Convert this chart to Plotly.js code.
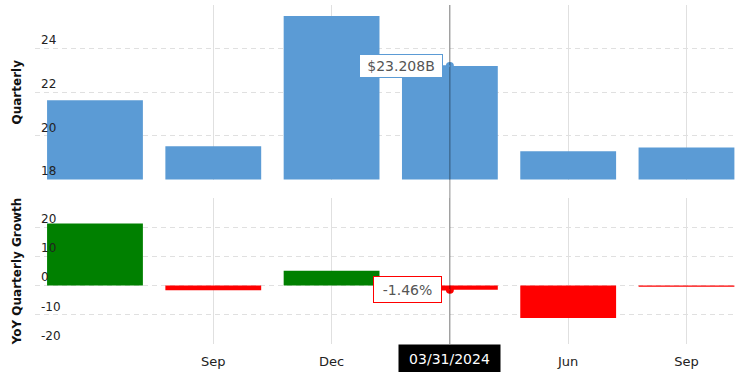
<!DOCTYPE html>
<html>
<head>
<meta charset="utf-8">
<script src="https://cdn.plot.ly/plotly-3.0.1.min.js"></script>
<style>html,body{margin:0;padding:0;background:#fff;}#chart{width:737px;height:372px;}</style>
</head>
<body>
<div id="chart"></div>
<script>
// Data
var quarters = ["2023-06-30", "2023-09-30", "2023-12-31", "2024-03-31", "2024-06-30", "2024-09-30"];
var quarterlyRevenue = [21.63, 19.52, 25.49, 23.208, 19.30, 19.47]; // $B
var yoyGrowth = [21.3, -1.6, 5.1, -1.46, -11.1, -0.4]; // %
var tickQuarters = ["2023-09-30", "2023-12-31", "2024-03-31", "2024-06-30", "2024-09-30"];
var tickLabels = ["Sep", "Dec", "", "Jun", "Sep"]; // Mar is covered by the date label
var topTicks = [18, 20, 22, 24, 26];
var topTickText = ["18", "20", "22", "24", ""];
var bottomTicks = [-20, -10, 0, 10, 20, 30];
var bottomTickText = ["-20", "-10", "0", "10", "20", ""];
var hoverIndex = 3;
var hoverDateLabel = "03/31/2024";

var H = 372;
var FONT = "DejaVu Sans, Verdana, sans-serif";
var BLUE = "#5b9bd5";
var GREEN = "#008000";
var RED = "#ff0000";
var GRID = "#e0e0e0";

var growthColors = yoyGrowth.map(function (v) { return v >= 0 ? GREEN : RED; });

var traces = [
  {type: "bar", x: quarters, y: quarterlyRevenue, xaxis: "x", yaxis: "y",
   marker: {color: BLUE}, hoverinfo: "skip", showlegend: false},
  {type: "bar", x: quarters, y: yoyGrowth, xaxis: "x2", yaxis: "y2",
   marker: {color: growthColors}, hoverinfo: "skip", showlegend: false},
  {type: "scatter", mode: "markers", x: [quarters[hoverIndex]], y: [quarterlyRevenue[hoverIndex]],
   xaxis: "x", yaxis: "y", marker: {color: BLUE, size: 8}, showlegend: false, hoverinfo: "skip", cliponaxis: false},
  {type: "scatter", mode: "markers", x: [quarters[hoverIndex]], y: [yoyGrowth[hoverIndex]],
   xaxis: "x2", yaxis: "y2", marker: {color: RED, size: 8}, showlegend: false, hoverinfo: "skip", cliponaxis: false}
];

var xRange = [-0.507, 5.427];
var commonX = {
  type: "category", range: xRange, showgrid: true, gridcolor: GRID, gridwidth: 1,
  tickmode: "array", tickvals: tickQuarters, ticktext: tickLabels,
  ticks: "", showline: false, zeroline: false, fixedrange: true
};

var layout = {
  width: 737, height: H,
  margin: {l: 35, r: 0, t: 0, b: 0},
  paper_bgcolor: "#fff", plot_bgcolor: "#fff",
  bargap: 0.19,
  font: {family: FONT, size: 12, color: "#222"},
  xaxis: Object.assign({}, commonX, {anchor: "y", domain: [0, 1], showticklabels: false}),
  xaxis2: Object.assign({}, commonX, {anchor: "y2", domain: [0, 1], showticklabels: true,
    ticklabelstandoff: 8, tickfont: {family: FONT, size: 13, color: "#222"}}),
  yaxis: {
    domain: [1 - 179.5 / H, 1 - 5 / H], range: [18, 26], anchor: "x",
    tickmode: "array", tickvals: topTicks, ticktext: topTickText,
    ticklabelposition: "inside top", ticklabelstandoff: 3,
    showgrid: true, gridcolor: GRID, griddash: "5px,4px", zeroline: false, showline: false, ticks: "",
    tickfont: {family: FONT, size: 12, color: "#222"},
    title: {text: "Quarterly", font: {family: FONT, size: 12, color: "#111", weight: "bold"}, standoff: 16},
    fixedrange: true
  },
  yaxis2: {
    domain: [1 - 344 / H, 1 - 198 / H], range: [-20, 30], anchor: "x2",
    tickmode: "array", tickvals: bottomTicks, ticktext: bottomTickText,
    ticklabelposition: "inside top", ticklabelstandoff: 3,
    showgrid: true, gridcolor: GRID, griddash: "5px,4px", zeroline: false, showline: false, ticks: "",
    tickfont: {family: FONT, size: 12, color: "#222"},
    title: {text: "YoY Quarterly Growth", font: {family: FONT, size: 12, color: "#111", weight: "bold"}, standoff: 16},
    fixedrange: true
  },
  shapes: [
    {type: "line", xref: "x", yref: "paper", x0: quarters[hoverIndex], x1: quarters[hoverIndex],
     y0: 1 - 344 / H, y1: 1 - 5 / H, line: {color: "rgba(0,0,0,0.45)", width: 1}, layer: "above"}
  ],
  annotations: [
    {xref: "x", yref: "y", x: quarters[hoverIndex], y: quarterlyRevenue[hoverIndex],
     text: "$" + quarterlyRevenue[hoverIndex].toFixed(3) + "B",
     showarrow: true, ax: -49, ay: 0, arrowhead: 0, arrowwidth: 1.5, arrowcolor: BLUE, standoff: 0,
     bgcolor: "#fff", bordercolor: BLUE, borderwidth: 1, borderpad: 3, width: 76, height: 16,
     font: {family: FONT, size: 14, color: "#555"}},
    {xref: "x2", yref: "y2", x: quarters[hoverIndex], y: yoyGrowth[hoverIndex],
     text: yoyGrowth[hoverIndex].toFixed(2) + "%",
     showarrow: true, ax: -42, ay: 0, arrowhead: 0, arrowwidth: 1.5, arrowcolor: RED, standoff: 0,
     bgcolor: "#fff", bordercolor: RED, borderwidth: 1, borderpad: 3, width: 61, height: 19,
     font: {family: FONT, size: 14, color: "#555"}},
    {xref: "x2", yref: "paper", x: quarters[hoverIndex], y: 1 - 344 / H, yanchor: "top",
     text: hoverDateLabel, showarrow: false, bgcolor: "#000", borderpad: 3, width: 95, height: 22,
     font: {family: FONT, size: 14, color: "#fff"}}
  ]
};

Plotly.newPlot("chart", traces, layout, {displayModeBar: false, staticPlot: true});
</script>
</body>
</html>
